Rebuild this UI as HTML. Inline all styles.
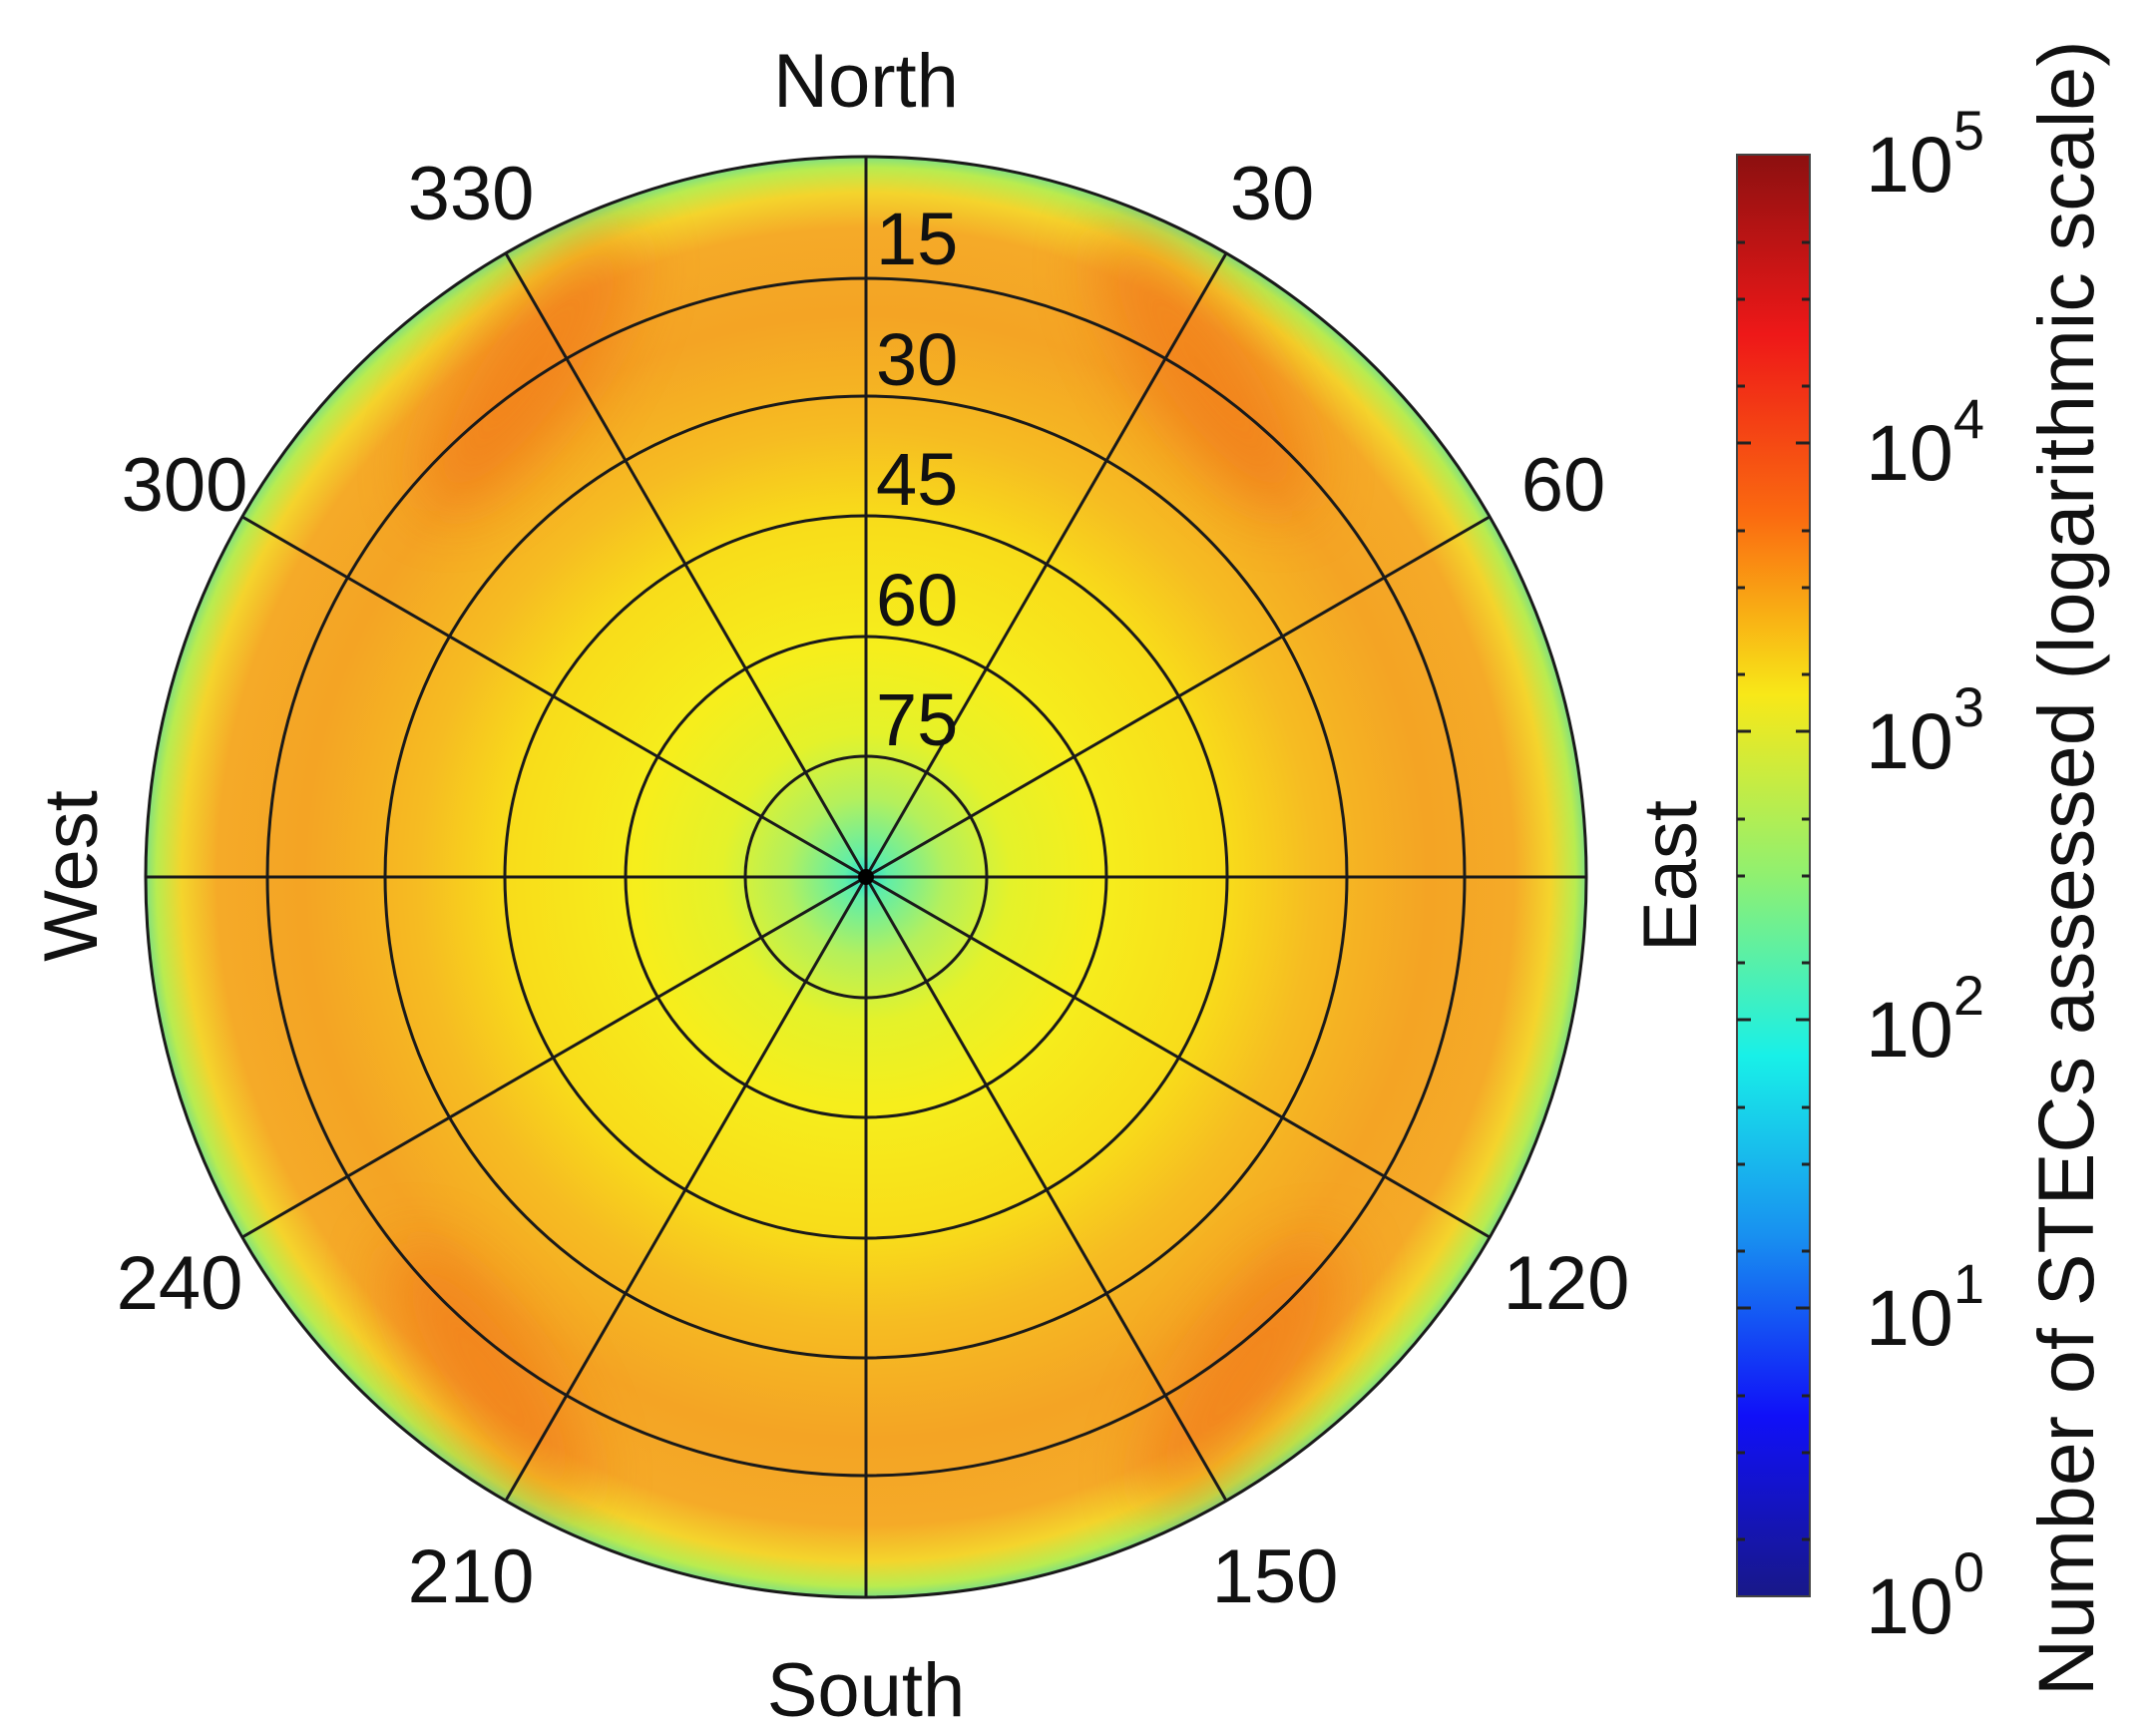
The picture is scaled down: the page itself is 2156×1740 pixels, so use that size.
<!DOCTYPE html>
<html><head><meta charset="utf-8"><style>
html,body{margin:0;padding:0;background:#fff}
svg{display:block}
text{font-family:"Liberation Sans",Arial,sans-serif;fill:#111}
</style></head><body>
<svg width="2156" height="1740" viewBox="0 0 2156 1740" xmlns="http://www.w3.org/2000/svg">
<defs>
<radialGradient id="hg" cx="868" cy="879" r="722" gradientUnits="userSpaceOnUse">
<stop offset="0" stop-color="#20d8d0"/>
<stop offset="0.03" stop-color="#60eea8"/>
<stop offset="0.11" stop-color="#b4f05c"/>
<stop offset="0.2" stop-color="#e4f22a"/>
<stop offset="0.32" stop-color="#f6ee1c"/>
<stop offset="0.5" stop-color="#f8dc1a"/>
<stop offset="0.62" stop-color="#f6bc22"/>
<stop offset="0.78" stop-color="#f4a424"/>
<stop offset="0.9" stop-color="#f5aa28"/>
<stop offset="0.95" stop-color="#f4d42c"/>
<stop offset="0.985" stop-color="#b8ec50"/>
<stop offset="1" stop-color="#80e080"/>
</radialGradient>
<linearGradient id="cb" x1="0" y1="155" x2="0" y2="1600" gradientUnits="userSpaceOnUse">
<stop offset="0" stop-color="#8c1010"/>
<stop offset="0.125" stop-color="#ee1818"/>
<stop offset="0.25" stop-color="#fa6a10"/>
<stop offset="0.375" stop-color="#f8e818"/>
<stop offset="0.5" stop-color="#90f070"/>
<stop offset="0.625" stop-color="#18f0e8"/>
<stop offset="0.75" stop-color="#1890f0"/>
<stop offset="0.875" stop-color="#1010f8"/>
<stop offset="1" stop-color="#181888"/>
</linearGradient>
<filter id="bl" x="-50%" y="-50%" width="200%" height="200%"><feGaussianBlur stdDeviation="30"/></filter>
<clipPath id="cc"><circle cx="868" cy="879" r="722"/></clipPath>
</defs>

<circle cx="868" cy="879" r="722" fill="url(#hg)"/>
<g clip-path="url(#cc)" filter="url(#bl)" fill="#f06a18" opacity="0.55">
<ellipse cx="530" cy="370" rx="60" ry="170" transform="rotate(35 530 370)"/>
<ellipse cx="1206" cy="370" rx="60" ry="170" transform="rotate(-35 1206 370)"/>
<ellipse cx="490" cy="1380" rx="55" ry="160" transform="rotate(-35 490 1380)"/>
<ellipse cx="1246" cy="1380" rx="55" ry="160" transform="rotate(35 1246 1380)"/>
</g>

<g fill="none" stroke="#1a1a1a" stroke-width="3">
<circle cx="868" cy="879" r="121"/>
<circle cx="868" cy="879" r="241"/>
<circle cx="868" cy="879" r="362"/>
<circle cx="868" cy="879" r="482"/>
<circle cx="868" cy="879" r="600"/>
<circle cx="868" cy="879" r="722"/>
<line x1="868" y1="157" x2="868" y2="1601"/>
<line x1="146" y1="879" x2="1590" y2="879"/>
<line x1="507" y1="254" x2="1229" y2="1504"/>
<line x1="1229" y1="254" x2="507" y2="1504"/>
<line x1="243" y1="518" x2="1493" y2="1240"/>
<line x1="1493" y1="518" x2="243" y2="1240"/>
</g>
<circle cx="868" cy="879" r="8" fill="#000"/>

<g font-size="76">
<text x="868" y="107" text-anchor="middle">North</text>
<text x="868" y="1720" text-anchor="middle">South</text>
<text x="472" y="220" text-anchor="middle">330</text>
<text x="1275" y="220" text-anchor="middle">30</text>
<text x="185" y="512" text-anchor="middle">300</text>
<text x="1567" y="512" text-anchor="middle">60</text>
<text x="180" y="1312" text-anchor="middle">240</text>
<text x="1570" y="1312" text-anchor="middle">120</text>
<text x="472" y="1606" text-anchor="middle">210</text>
<text x="1278" y="1606" text-anchor="middle">150</text>
<text transform="translate(97 878) rotate(-90)" text-anchor="middle">West</text>
<text transform="translate(1700 878) rotate(-90)" text-anchor="middle">East</text>
</g>
<g font-size="74">
<text x="878" y="265">15</text>
<text x="878" y="386">30</text>
<text x="878" y="506">45</text>
<text x="878" y="627">60</text>
<text x="878" y="747">75</text>
</g>

<rect x="1741" y="155" width="73" height="1445" fill="url(#cb)" stroke="#444" stroke-width="2"/>
<g font-size="79">
<text x="1870" y="192">10<tspan dy="-42" font-size="56">5</tspan></text>
<text x="1870" y="481">10<tspan dy="-42" font-size="56">4</tspan></text>
<text x="1870" y="770">10<tspan dy="-42" font-size="56">3</tspan></text>
<text x="1870" y="1059">10<tspan dy="-42" font-size="56">2</tspan></text>
<text x="1870" y="1348">10<tspan dy="-42" font-size="56">1</tspan></text>
<text x="1870" y="1637">10<tspan dy="-42" font-size="56">0</tspan></text>
<text transform="translate(2098 1700) rotate(-90)">Number of STECs assessed (logarithmic scale)</text>
</g>
<g stroke="#222" stroke-width="3">
<path d="M1741 444h14M1800 444h14M1741 733h14M1800 733h14M1741 1022h14M1800 1022h14M1741 1311h14M1800 1311h14
M1741 243h8M1806 243h8M1741 300h8M1806 300h8M1741 387h8M1806 387h8
M1741 532h8M1806 532h8M1741 589h8M1806 589h8M1741 676h8M1806 676h8
M1741 821h8M1806 821h8M1741 878h8M1806 878h8M1741 965h8M1806 965h8
M1741 1110h8M1806 1110h8M1741 1167h8M1806 1167h8M1741 1254h8M1806 1254h8
M1741 1399h8M1806 1399h8M1741 1456h8M1806 1456h8M1741 1543h8M1806 1543h8"/>
</g>
</svg>
</body></html>
